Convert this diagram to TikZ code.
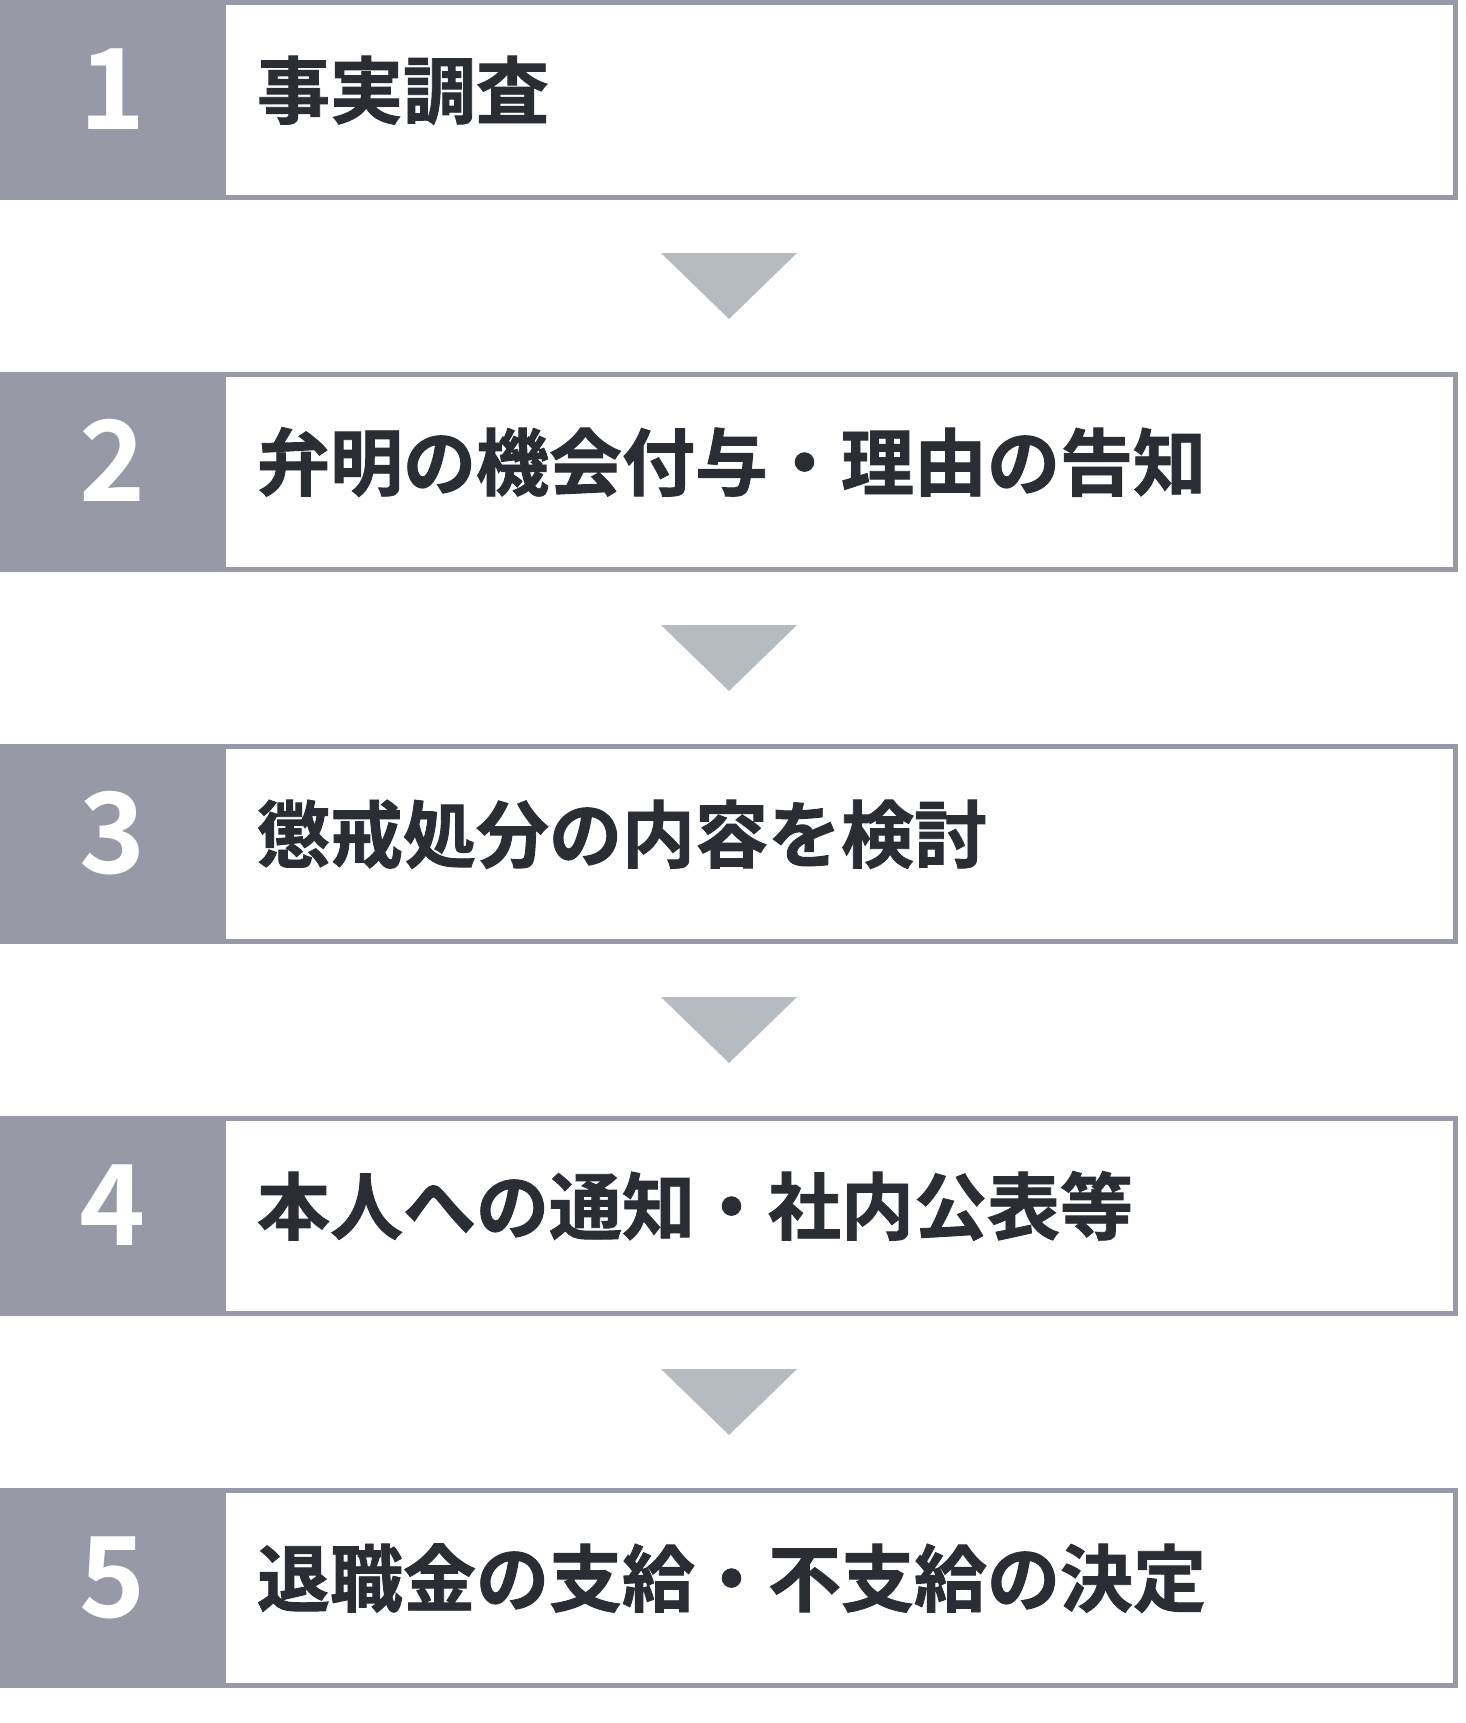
\documentclass[tikz,border=0pt]{standalone}
\usepackage{fontspec}
\setmainfont{Noto Sans CJK JP}[BoldFont=* Bold]
\newfontfamily\stepfont{Noto Sans CJK JP Bold}[FakeBold=1.2]
\usetikzlibrary{positioning, calc}
\definecolor{stepgray}{HTML}{979AA6}
\definecolor{arrowgray}{HTML}{B6BAC1}
\definecolor{textdark}{HTML}{2A2D33}
\tikzstyle{stepbox} = [rectangle, draw=stepgray, line width=2.5pt, fill=white, minimum height=97.5pt, text width=582.5pt, inner xsep=16.75pt, align=left, text height=32pt, text depth=14.2pt, text=textdark, font=\fontsize{36.5pt}{40pt}\selectfont\stepfont]
\tikzstyle{numbox} = [rectangle, fill=stepgray, minimum width=113pt, minimum height=100pt, inner sep=0pt, outer sep=0pt, text height=41pt, text depth=12pt, text=white, font=\fontsize{56pt}{60pt}\selectfont\bfseries]
\tikzstyle{arrowtri} = [fill=arrowgray]

\begin{document}
\begin{tikzpicture}[x=0.5pt, y=0.5pt, node distance=86pt]
\useasboundingbox (0,0) rectangle (1466,-1723);

% Steps
\node (step1) [stepbox, anchor=north west] at (221,0) {事実調査};
\node (num1) [numbox, left=-2.5pt of step1] {1};
\node (step2) [stepbox, below=of step1] {弁明の機会付与・理由の告知};
\node (num2) [numbox, left=-2.5pt of step2] {2};
\node (step3) [stepbox, below=of step2] {懲戒処分の内容を検討};
\node (num3) [numbox, left=-2.5pt of step3] {3};
\node (step4) [stepbox, below=of step3] {本人への通知・社内公表等};
\node (num4) [numbox, left=-2.5pt of step4] {4};
\node (step5) [stepbox, below=of step4] {退職金の支給・不支給の決定};
\node (num5) [numbox, left=-2.5pt of step5] {5};

% Arrows
\coordinate (gap1) at ($(num1.south west)!0.5!(step2.north east)$);
\coordinate (gap2) at ($(num2.south west)!0.5!(step3.north east)$);
\coordinate (gap3) at ($(num3.south west)!0.5!(step4.north east)$);
\coordinate (gap4) at ($(num4.south west)!0.5!(step5.north east)$);
\fill [arrowtri] ($(gap1)+(-68,33)$) -- ($(gap1)+(68,33)$) -- ($(gap1)+(0,-33)$) -- cycle;
\fill [arrowtri] ($(gap2)+(-68,33)$) -- ($(gap2)+(68,33)$) -- ($(gap2)+(0,-33)$) -- cycle;
\fill [arrowtri] ($(gap3)+(-68,33)$) -- ($(gap3)+(68,33)$) -- ($(gap3)+(0,-33)$) -- cycle;
\fill [arrowtri] ($(gap4)+(-68,33)$) -- ($(gap4)+(68,33)$) -- ($(gap4)+(0,-33)$) -- cycle;

\end{tikzpicture}
\end{document}
